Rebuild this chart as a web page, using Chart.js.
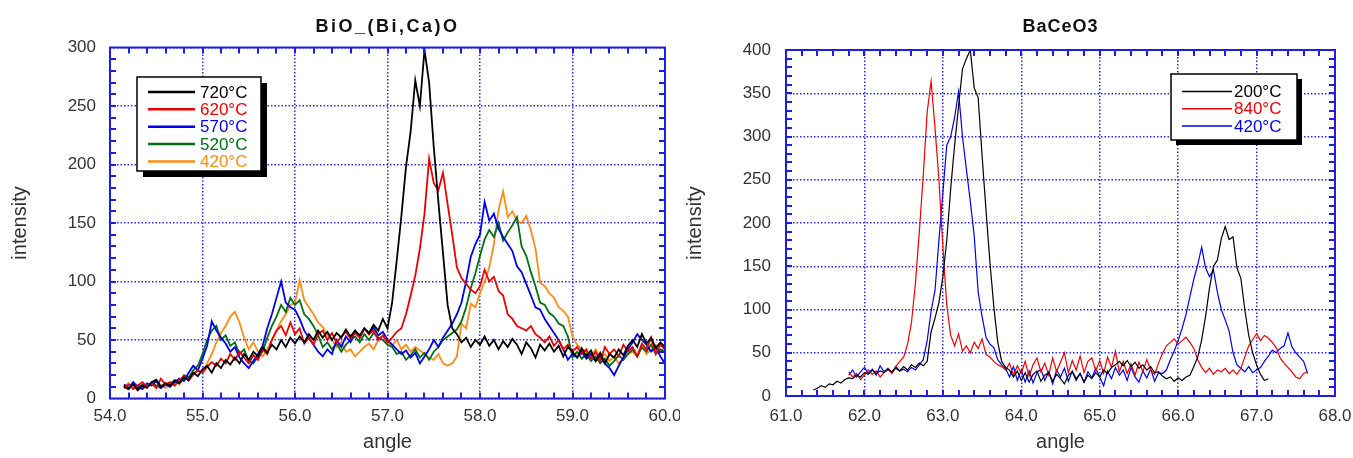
<!DOCTYPE html>
<html>
<head>
<meta charset="utf-8">
<script src="https://cdn.jsdelivr.net/npm/chart.js@4.4.1/dist/chart.umd.min.js"></script>
<style>
  html, body { margin: 0; padding: 0; background: #fff; }
  #wrap { position: relative; width: 1353px; height: 458px; overflow: hidden; }
  #bio { position: absolute; left: 0; top: 0; }
  #bace { position: absolute; left: 680px; top: 0; }
</style>
</head>
<body>
<div id="wrap">
  <canvas id="bio" width="680" height="458"></canvas>
  <canvas id="bace" width="673" height="458"></canvas>
</div>
<script>
// ---- left panel: BiO_(Bi,Ca)O, one reading every 0.05 deg from 54.15 ----
const bioStart = 54.15;
const bioStep = 0.05;
const bioXTicks = [54, 55, 56, 57, 58, 59, 60];
const bioYTicks = [0, 50, 100, 150, 200, 250, 300];
const bioLabels = ['720°C', '620°C', '570°C', '520°C', '420°C'];

const bio720 = [
    10, 8, 12, 7, 11, 9, 14, 16, 10, 13,
    11, 15, 13, 18, 16, 22, 19, 25, 28, 22,
    30, 26, 33, 29, 35, 30, 38, 33, 40, 36,
    44, 39, 46, 42, 50, 44, 52, 47, 53, 48,
    55, 50, 58, 52, 57, 50, 56, 52, 59, 53,
    58, 54, 60, 56, 63, 58, 68, 60, 82, 118,
    156, 198, 228, 272, 250, 298, 270, 215, 168, 124,
    80, 60, 55, 48, 52, 44, 50, 46, 53, 45,
    50, 42, 49, 44, 51, 46, 38, 48, 43, 35,
    46, 41, 47, 40, 45, 36, 44, 40, 35, 43,
    36, 41, 32, 39, 30, 38, 35, 42, 37, 45,
    50, 44, 55, 47, 52, 43, 48, 44
];
const bio620 = [
    9, 12, 8, 11, 14, 10, 13, 9, 17, 12,
    14, 11, 16, 19, 15, 21, 24, 22, 27, 31,
    28, 34, 30, 38, 33, 40, 35, 30, 37, 33,
    42, 38, 50, 58, 62, 54, 65, 55, 60, 47,
    52, 46, 55, 58, 50, 56, 48, 53, 57, 51,
    56, 52, 60, 55, 58, 50, 54, 48, 52, 57,
    60, 72, 88, 105, 128, 158, 205, 184, 178, 193,
    166, 140, 112, 103, 98, 93, 90, 96, 110, 100,
    104, 92, 88, 72, 68, 62, 60, 58, 62, 55,
    52, 48, 53, 45, 50, 42, 46, 40, 44, 38,
    42, 34, 40, 32, 44, 38, 42, 36, 46, 40,
    44, 36, 47, 42, 52, 38, 46, 42
];
const bio570 = [
    12, 9, 14, 10, 8, 13, 11, 15, 9, 12,
    10, 14, 17, 15, 22, 28, 24, 34, 45, 66,
    58, 52, 47, 40, 44, 35, 30, 26, 32, 38,
    45, 60, 72, 86, 100, 82, 78, 76, 68, 58,
    52, 46, 40, 36, 42, 38, 50, 44, 53, 48,
    58, 52, 60, 55, 61, 54, 57, 50, 46, 42,
    38, 41, 35, 39, 30, 36, 42, 50, 44, 52,
    58, 64, 72, 82, 100, 121, 132, 140, 168, 152,
    158, 145, 138, 132, 126, 113, 108, 98, 88, 78,
    76, 68, 62, 56, 50, 42, 33, 38, 35, 40,
    34, 38, 32, 36, 30, 26, 20, 28, 35, 42,
    48, 55, 50, 46, 40, 44, 36, 30
];
const bio520 = [
    11, 8, 13, 9, 12, 10, 14, 11, 9, 13,
    12, 16, 14, 20, 18, 24, 28, 38, 50, 58,
    62, 50, 54, 45, 48, 38, 42, 32, 30, 36,
    40, 52, 62, 70, 80, 74, 86, 80, 84, 72,
    68, 62, 54, 44, 48, 42, 47, 40, 46, 50,
    53, 48, 55, 50, 56, 52, 50, 46, 44, 38,
    40, 33, 37, 42, 35, 39, 33, 40, 44, 50,
    53, 56, 59, 66, 78, 94, 107, 122, 136, 144,
    138, 150, 135, 142, 148, 155, 130, 122, 108, 96,
    82, 80, 73, 70, 64, 62, 53, 35, 40, 34,
    38, 32, 36, 30, 34, 28, 32, 37, 33, 38,
    42, 36, 44, 40, 46, 38, 42, 40
];
const bio420 = [
    10, 13, 9, 12, 8, 11, 14, 10, 12, 9,
    13, 15, 12, 18, 16, 20, 24, 22, 30, 38,
    48, 56, 62, 70, 74, 65, 52, 42, 48, 40,
    36, 42, 50, 58, 66, 72, 80, 82, 101, 84,
    78, 72, 65, 61, 54, 50, 44, 48, 40, 42,
    36, 40, 44, 47, 42, 50, 53, 48, 45, 50,
    42, 46, 40, 44, 41, 38, 35, 33, 38, 30,
    28, 30, 36, 64, 60, 81, 78, 90, 100, 112,
    132, 161, 177, 155, 160, 152, 150, 156, 144, 128,
    99, 96, 90, 86, 78, 75, 70, 53, 46, 42,
    40, 36, 42, 34, 38, 32, 36, 30, 34, 38,
    40, 36, 44, 38, 42, 46, 40, 44
];

// ---- right panel: BaCeO3, one reading every 0.05 deg ----
const baceStep = 0.05;
const baceStarts = [61.35, 61.8, 61.8];
const baceXTicks = [61, 62, 63, 64, 65, 66, 67, 68];
const baceYTicks = [0, 50, 100, 150, 200, 250, 300, 350, 400];
const baceLabels = ['200°C', '840°C', '420°C'];

const bace200 = [
    7, 9, 12, 10, 14, 13, 17, 15, 19, 21,
    20, 24, 22, 27, 25, 30, 26, 29, 27, 31,
    28, 32, 29, 34, 30, 36, 33, 38, 35, 40,
    74, 90, 108, 138, 180, 240, 290, 335, 378, 390,
    400, 356, 345, 278, 215, 155, 103, 62, 40, 33,
    30, 22, 29, 18, 27, 16, 25, 29, 17, 24,
    27, 17, 25, 20, 14, 24, 28, 18, 26, 16,
    24, 20, 27, 22, 30, 26, 33, 36, 40, 35,
    41, 34, 39, 32, 36, 30, 34, 27, 28, 23,
    20, 22, 17, 21, 18, 22, 24, 34, 45, 65,
    92, 125, 150, 157, 182, 196, 181, 184, 148, 136,
    100, 70, 50, 36, 25, 18, 20
];
const bace840 = [
    28, 22, 26, 19, 24, 30, 25, 29, 22, 27,
    31, 26, 34, 40, 45, 60, 85, 130, 190, 255,
    328, 364, 310, 250, 172, 105, 70, 58, 72, 52,
    58, 50, 62, 55, 66, 48, 45, 40, 36, 34,
    30, 38, 24, 35, 26, 40, 23, 36, 44, 28,
    38, 24, 44, 28, 39, 50, 27, 41, 30, 46,
    27, 40, 44, 29, 41, 26, 45, 33, 52, 28,
    40, 26, 37, 24, 39, 28, 42, 30, 25, 38,
    49, 58, 62, 66, 60, 64, 68, 62, 55, 42,
    33, 27, 32, 25, 30, 28, 32, 26, 30, 25,
    32, 45, 58, 65, 72, 64, 70, 67, 62, 56,
    44, 38, 33, 28, 22, 20, 26, 28
];
const bace420 = [
    24, 30, 22, 28, 33, 26, 31, 24, 35, 28,
    32, 27, 34, 29, 31, 28, 33, 30, 36, 42,
    64, 98, 122, 180, 235, 290, 300, 322, 352, 300,
    262, 225, 185, 120, 92, 68, 60, 56, 42, 36,
    32, 22, 34, 18, 30, 16, 29, 15, 27, 31,
    18, 28, 14, 30, 22, 32, 17, 29, 20, 26,
    16, 28, 21, 32, 22, 12, 29, 20, 33, 24,
    30, 18, 33, 22, 16, 29, 21, 31, 17, 27,
    26, 30, 42, 52, 64, 78, 94, 115, 135, 152,
    172, 148, 138, 146, 120, 100, 88, 75, 50, 36,
    32, 28, 34, 27, 30, 33, 40, 46, 53, 50,
    55, 58, 73, 57, 50, 45, 40, 26
];

const FONT = "'Liberation Sans', Arial, sans-serif";
const BLUE_GRID = 'rgb(40, 40, 235)';

function toPoints(start, step, values) {
    return values.map((v, i) => ({ x: +(start + i * step).toFixed(2), y: v }));
}

// blue box round the plot with small inward ticks on all four sides
const frame = {
    id: 'frame',
    afterDraw(chart, args, o) {
        const { ctx, chartArea: a, scales: { x, y } } = chart;
        ctx.save();
        ctx.strokeStyle = o.color;
        ctx.lineWidth = 2;
        ctx.beginPath();
        const nx = Math.round((x.max - x.min) / o.xMinor);
        for (let i = 1; i < nx; i++) {
            const px = Math.round(x.getPixelForValue(x.min + i * o.xMinor));
            ctx.moveTo(px, a.top); ctx.lineTo(px, a.top + o.len);
            ctx.moveTo(px, a.bottom); ctx.lineTo(px, a.bottom - o.len);
        }
        const ny = Math.round((y.max - y.min) / o.yMinor);
        for (let i = 1; i < ny; i++) {
            const py = Math.round(y.getPixelForValue(y.min + i * o.yMinor));
            ctx.moveTo(a.left, py); ctx.lineTo(a.left + o.len, py);
            ctx.moveTo(a.right, py); ctx.lineTo(a.right - o.len, py);
        }
        ctx.stroke();
        ctx.strokeRect(a.left, a.top, a.right - a.left, a.bottom - a.top);
        ctx.restore();
    }
};

// legend box with a black drop shadow, inside the plot
const boxLegend = {
    id: 'boxLegend',
    afterDatasetsDraw(chart, args, o) {
        const { ctx, chartArea: a } = chart;
        const bx = a.left + o.left, by = a.top + o.top;
        ctx.save();
        ctx.fillStyle = '#000';
        ctx.fillRect(bx + o.shadow, by + o.shadow, o.width, o.height);
        ctx.fillStyle = '#fff';
        ctx.fillRect(bx, by, o.width, o.height);
        ctx.strokeStyle = '#000';
        ctx.lineWidth = 1.5;
        ctx.strokeRect(bx, by, o.width, o.height);
        ctx.font = '17px ' + FONT;
        ctx.textBaseline = 'middle';
        chart.data.datasets.forEach((ds, i) => {
            const ry = by + o.firstRow + i * o.rowGap;
            ctx.strokeStyle = ds.borderColor;
            ctx.lineWidth = o.lineWidth;
            ctx.beginPath();
            ctx.moveTo(bx + o.lineFrom, ry);
            ctx.lineTo(bx + o.lineTo, ry);
            ctx.stroke();
            ctx.fillStyle = ds.borderColor;
            ctx.fillText(ds.label, bx + o.textX, ry + 1);
        });
        ctx.restore();
    }
};

const plotTitle = {
    id: 'plotTitle',
    afterDraw(chart, args, o) {
        const { ctx, chartArea: a } = chart;
        ctx.save();
        ctx.font = 'bold 18px ' + FONT;
        ctx.letterSpacing = o.spacing;
        ctx.fillStyle = '#111';
        ctx.textAlign = 'center';
        ctx.textBaseline = 'middle';
        ctx.fillText(o.text, (a.left + a.right) / 2, o.y);
        ctx.restore();
    }
};

function makeChart(id, cfg) {
    return new Chart(document.getElementById(id), {
        type: 'line',
        data: { datasets: cfg.datasets },
        options: {
            responsive: false,
            animation: false,
            events: [],
            layout: { padding: cfg.padding },
            elements: { point: { radius: 0 }, line: { tension: 0 } },
            plugins: {
                legend: { display: false },
                tooltip: { enabled: false },
                frame: { color: 'rgb(30, 30, 225)', xMinor: 0.2, yMinor: 10, len: 6 },
                boxLegend: cfg.legend,
                plotTitle: { text: cfg.title, y: 27, spacing: cfg.titleSpacing }
            },
            scales: {
                x: {
                    type: 'linear',
                    min: cfg.xTicks[0],
                    max: cfg.xTicks[cfg.xTicks.length - 1],
                    afterBuildTicks: s => { s.ticks = cfg.xTicks.map(v => ({ value: v })); },
                    ticks: {
                        callback: v => v.toFixed(1),
                        font: { family: FONT, size: 17 },
                        color: '#333',
                        padding: cfg.xTickPad,
                        maxRotation: 0,
                        autoSkip: false
                    },
                    grid: { color: BLUE_GRID, lineWidth: 1.5, drawTicks: false },
                    border: { display: false, dash: [1.5, 2] },
                    title: {
                        display: true, text: 'angle', color: '#333',
                        font: { family: FONT, size: 20 },
                        padding: { top: 0, bottom: 4 }
                    },
                    afterFit: s => { s.height = cfg.xHeight; s.paddingLeft = 0; s.paddingRight = 0; }
                },
                y: {
                    min: cfg.yTicks[0],
                    max: cfg.yTicks[cfg.yTicks.length - 1],
                    afterBuildTicks: s => { s.ticks = cfg.yTicks.map(v => ({ value: v })); },
                    ticks: {
                        font: { family: FONT, size: 17 },
                        color: '#333',
                        padding: cfg.yTickPad
                    },
                    grid: { color: BLUE_GRID, lineWidth: 1.5, drawTicks: false },
                    border: { display: false, dash: [1.5, 2] },
                    title: {
                        display: true, text: 'intensity', color: '#333',
                        font: { family: FONT, size: 20 },
                        padding: { top: cfg.yTitlePad, bottom: 0 }
                    },
                    afterFit: s => { s.width = cfg.yWidth; s.paddingTop = 0; s.paddingBottom = 0; }
                }
            }
        },
        plugins: [frame, boxLegend, plotTitle]
    });
}

const bioColors = ['#000000', 'rgb(235, 0, 0)', 'rgb(0, 0, 235)', 'rgb(0, 110, 20)', 'rgb(255, 140, 20)'];
const bioSeries = [bio720, bio620, bio570, bio520, bio420];

makeChart('bio', {
    title: 'BiO_(Bi,Ca)O',
    titleSpacing: '2.5px',
    datasets: bioSeries.map((vals, i) => ({
        label: bioLabels[i],
        data: toPoints(bioStart, bioStep, vals),
        borderColor: bioColors[i],
        borderWidth: 1.8
    })),
    xTicks: bioXTicks, yTicks: bioYTicks,
    padding: { top: 47.5, right: 15, bottom: 0, left: 0 },
    xHeight: 59.5, yWidth: 110,
    xTickPad: 8, yTickPad: 14, yTitlePad: 8,
    legend: { left: 27, top: 29.5, width: 124, height: 94, shadow: 6,
              firstRow: 15, rowGap: 17.35, lineFrom: 11, lineTo: 58, textX: 63, lineWidth: 2.5 }
});

const baceColors = ['#000000', 'rgb(235, 0, 0)', 'rgb(0, 0, 235)'];
const baceSeries = [bace200, bace840, bace420];

makeChart('bace', {
    title: 'BaCeO3',
    titleSpacing: '1px',
    datasets: baceSeries.map((vals, i) => ({
        label: baceLabels[i],
        data: toPoints(baceStarts[i], baceStep, vals),
        borderColor: baceColors[i],
        borderWidth: 1.2
    })),
    xTicks: baceXTicks, yTicks: baceYTicks,
    padding: { top: 50, right: 18, bottom: 0, left: 0 },
    xHeight: 62, yWidth: 106,
    xTickPad: 10, yTickPad: 15, yTitlePad: 3,
    legend: { left: 385, top: 24, width: 126, height: 66, shadow: 5,
              firstRow: 17.5, rowGap: 17.2, lineFrom: 11, lineTo: 61, textX: 63, lineWidth: 1.5 }
});
</script>
</body>
</html>
